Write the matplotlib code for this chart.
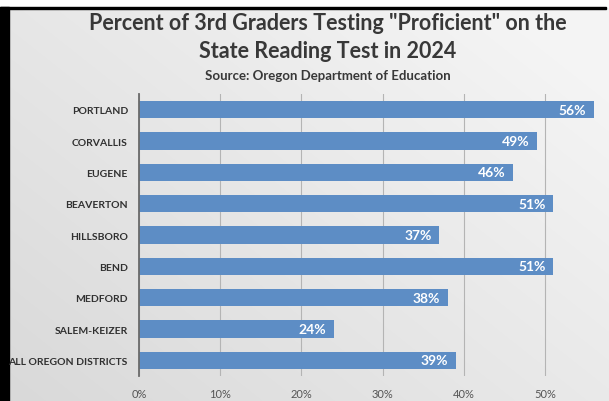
import numpy as np
import matplotlib
matplotlib.use("Agg")
import matplotlib.pyplot as plt
from matplotlib.patches import Rectangle

# data
districts = ["PORTLAND", "CORVALLIS", "EUGENE", "BEAVERTON", "HILLSBORO",
             "BEND", "MEDFORD", "SALEM-KEIZER", "ALL OREGON DISTRICTS"]
pct = [56, 49, 46, 51, 37, 51, 38, 24, 39]
xticks = [0, 10, 20, 30, 40, 50]
xtick_labels = ["0%", "10%", "20%", "30%", "40%", "50%"]

title1 = 'Percent of 3rd Graders Testing "Proficient" on the'
title2 = "State Reading Test in 2024"
subtitle = "Source: Oregon Department of Education"

W, H = 609, 402
plt.rcParams['font.family'] = ['Lato', 'DejaVu Sans']

fig = plt.figure(figsize=(W / 100, H / 100), dpi=100)

# grey gradient background, lighter towards the upper right
gx, gy = np.meshgrid(np.linspace(0, 1, W), np.linspace(0, 1, H))
shade = 0.85 + 0.11 * np.clip(0.6 * gx + 0.5 * gy, 0, 1)
rgb = np.dstack([shade, shade, shade])
fig.figimage(rgb, xo=0, yo=0, origin='lower', zorder=-10)

# frame pieces (black band on left, thin line on top, white strip above)
fig.patches.append(Rectangle((0, (H - 8) / H), 1, 8 / H, transform=fig.transFigure,
                             color='white', zorder=-5))
fig.patches.append(Rectangle((0, 0), 9 / W, (H - 8) / H, transform=fig.transFigure,
                             color='black', zorder=-5))
fig.patches.append(Rectangle((0, (H - 10) / H), 606 / W, 2 / H, transform=fig.transFigure,
                             color='black', zorder=-5))

left, right, top, bottom = 139, W, 95, 377
ax = fig.add_axes([left / W, (H - bottom) / H, (right - left) / W, (bottom - top) / H])
ax.patch.set_alpha(0)

y = np.arange(len(districts))
ax.barh(y, pct, height=0.55, color='#5d8dc5', zorder=3)
for i, v in enumerate(pct):
    ax.text(v - 0.9, i, f"{v}%", ha='right', va='center', color='white',
            fontweight='bold', fontsize=10, zorder=4)

ax.set_ylim(len(districts) - 0.5, -0.5)
ax.set_xlim(0, (right - left) / 8.12)
ax.set_yticks(y)
ax.set_yticklabels(districts, fontweight='bold', fontsize=7.5, color='#303030')
ax.set_xticks(xticks)
ax.set_xticklabels(xtick_labels, fontsize=8, color='#555555')
ax.tick_params(axis='both', length=0)
ax.tick_params(axis='y', pad=8)
ax.tick_params(axis='x', pad=9)
ax.xaxis.grid(True, color='#b4b4b4', linewidth=0.8, zorder=0)
ax.set_axisbelow(True)
for s in ['top', 'right', 'bottom']:
    ax.spines[s].set_visible(False)
ax.spines['left'].set_color('#6a6a6a')
ax.spines['left'].set_linewidth(1.3)
ax.spines['left'].set_zorder(5)

cx = 328 / W
fig.text(cx, 1 - 24 / H, title1, ha='center', va='center', fontsize=15.5,
         fontweight='bold', color='#383838')
fig.text(cx, 1 - 51 / H, title2, ha='center', va='center', fontsize=15.5,
         fontweight='bold', color='#383838')
fig.text(cx, 1 - 76 / H, subtitle, ha='center', va='center', fontsize=9.5,
         fontweight='bold', color='#383838')

fig.savefig("out.png", dpi=100)
